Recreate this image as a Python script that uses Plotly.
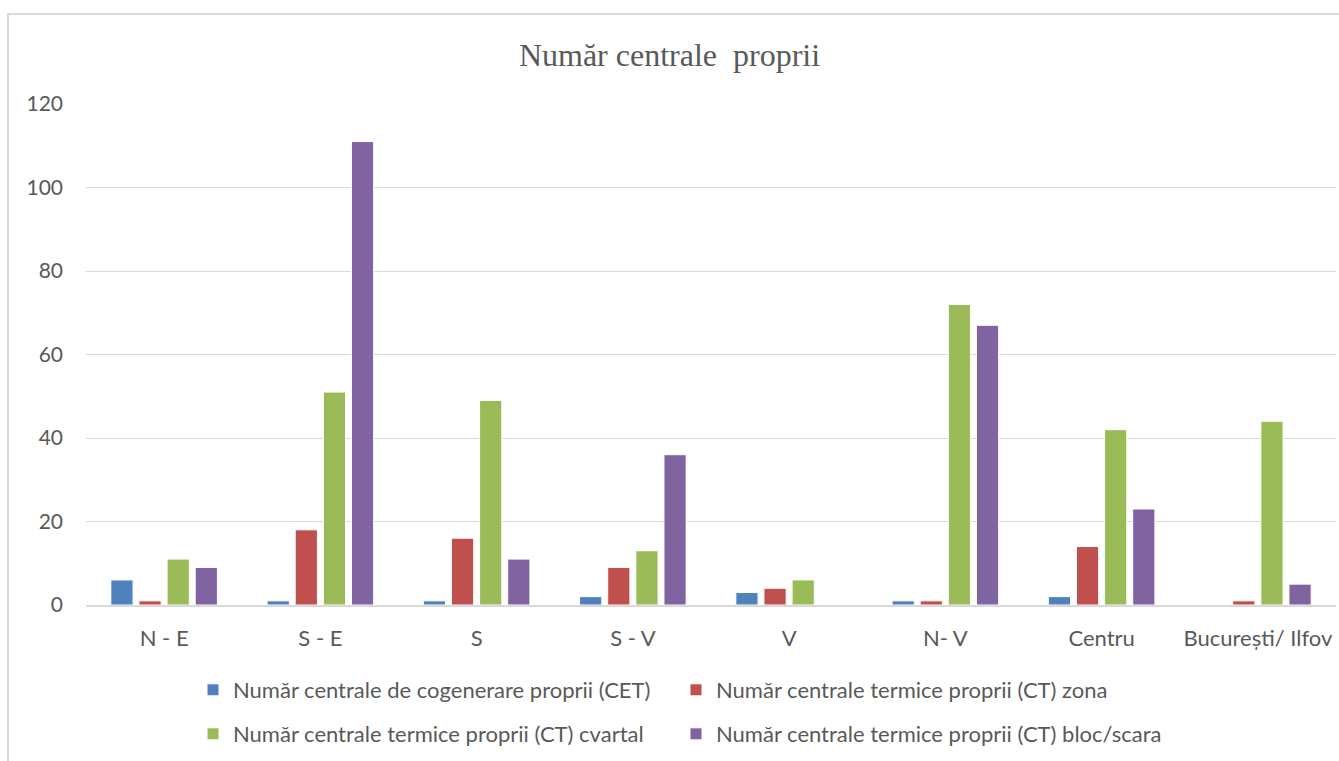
import plotly.graph_objects as go

# ── data ─────────────────────────────────────────────
regiuni = ["N - E", "S - E", "S", "S - V", "V", "N- V", "Centru", "București/ Ilfov"]

serii = [
    "Număr centrale de cogenerare proprii (CET)",
    "Număr centrale termice proprii (CT) zona",
    "Număr centrale termice proprii (CT) cvartal",
    "Număr centrale termice proprii (CT) bloc/scara",
]

cet = [6, 1, 1, 2, 3, 1, 2, 0]
ct_zona = [1, 18, 16, 9, 4, 1, 14, 1]
ct_cvartal = [11, 51, 49, 13, 6, 72, 42, 44]
ct_bloc = [9, 111, 11, 36, 0, 67, 23, 5]

culori = ["#4f81bd", "#c0504d", "#9bbb59", "#8064a2"]

# legend grid 2x2: one legend per entry, (column, row) in pixels
legende = ["legend", "legend2", "legend3", "legend4"]
leg_col_px = [193, 676, 193, 676]
leg_row_px = [690, 690, 734, 734]

# ── figure ───────────────────────────────────────────
fig = go.Figure()
for nume, vals, col, leg in zip(serii, [cet, ct_zona, ct_cvartal, ct_bloc], culori, legende):
    fig.add_trace(go.Bar(
        x=regiuni, y=vals, name=nume, legend=leg,
        marker=dict(color=col, line=dict(color="white", width=1)),
    ))

GRAY = "#595959"
FONT = "Lato, Open Sans"
L, T, W, H = 86, 104, 1250, 501   # plot area in px

leg_layout = {
    leg: dict(
        orientation="h", xanchor="left", yanchor="middle",
        x=(cx - L) / W, y=(T + H - cy) / H,
        font=dict(family=FONT, size=22, color=GRAY),
        itemwidth=30, bgcolor="rgba(0,0,0,0)",
    )
    for leg, cx, cy in zip(legende, leg_col_px, leg_row_px)
}

fig.update_layout(
    width=1339, height=761,
    paper_bgcolor="white", plot_bgcolor="white",
    margin=dict(l=L, r=1339 - L - W, t=T, b=761 - T - H),
    barmode="group", bargap=0.28, bargroupgap=0.21,
    title=dict(
        text="Număr centrale  proprii",
        font=dict(family="Liberation Serif", size=32, color=GRAY),
        x=0.5, xanchor="center", y=1 - 55 / 761, yanchor="middle",
    ),
    font=dict(family=FONT, color=GRAY, size=21),
    xaxis=dict(
        showgrid=False, showline=True, linecolor="#d9d9d9", linewidth=2,
        ticks="", tickfont=dict(size=22, color=GRAY), ticklabelstandoff=13,
    ),
    yaxis=dict(
        range=[0, 120], dtick=20, showgrid=True, gridcolor="#d9d9d9",
        gridwidth=1.3, zeroline=False, showline=False, ticks="",
        tickfont=dict(size=21, color=GRAY), ticklabelstandoff=22,
    ),
    showlegend=True,
    **leg_layout,
)

# chart frame
fig.add_shape(
    type="rect", xref="paper", yref="paper",
    x0=(8 - L) / W, x1=1.01, y0=-0.35, y1=(T + H - 14) / H,
    line=dict(color="#d9d9d9", width=2), fillcolor="rgba(0,0,0,0)",
    layer="below",
)

fig.write_html(
    "out.html",
    config={"displayModeBar": False},
    post_script="document.body.style.margin='0';",
)
